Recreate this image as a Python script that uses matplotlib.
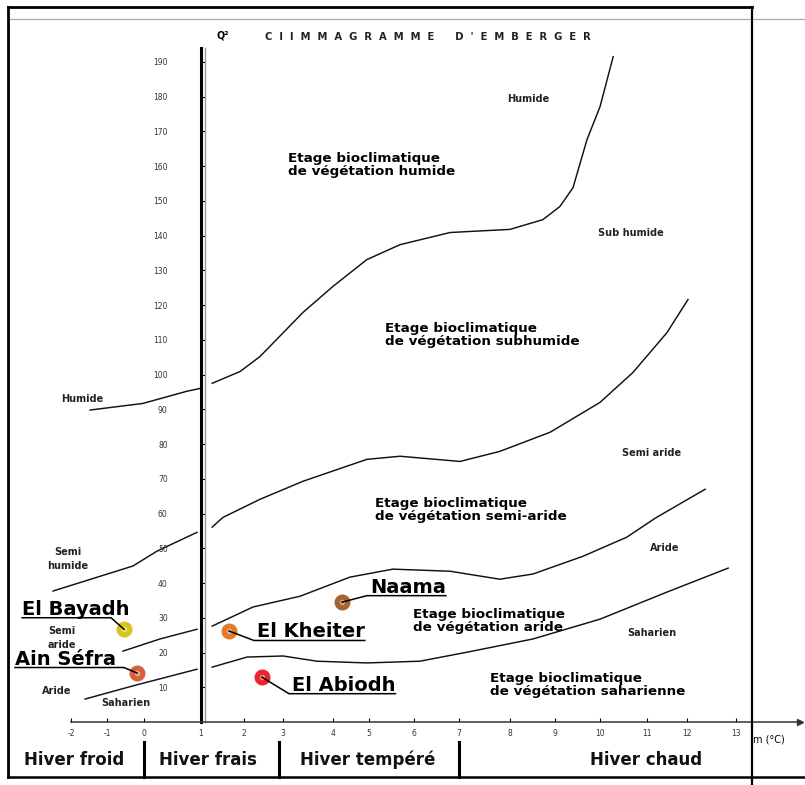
import numpy as np
import matplotlib
matplotlib.use("Agg")
import matplotlib.pyplot as plt
from matplotlib.lines import Line2D
from matplotlib import transforms

plt.rcParams['font.family'] = ['DejaVu Sans']

# --- data -------------------------------------------------------------
m_ticks = list(range(-2, 14))
q_ticks = list(range(0, 200, 10))

# limit curves between bioclimatic stages (m in degC, Q2)
humid_m = [-1.47, -0.03, 0.75, 0.98, 1.26, 1.91, 2.41, 3.4, 4.0, 4.94, 5.69, 6.8, 8.0, 8.73, 9.11, 9.4, 9.71, 10.0, 10.28]
humid_q = [89.8, 91.7, 95.2, 96.0, 97.5, 100.9, 105.2, 117.9, 125.4, 133.1, 137.4, 140.9, 141.8, 144.6, 148.4, 153.8, 167.6, 177.1, 191.5]

subhumid_m = [-2.5, -0.3, 0.23, 0.93, 1.26, 1.51, 2.41, 3.4, 4.94, 5.69, 7.02, 7.8, 8.89, 10.0, 10.7, 11.5, 12.02]
subhumid_q = [37.7, 44.9, 49.2, 54.6, 56.1, 58.9, 64.1, 69.3, 75.6, 76.5, 75.0, 77.9, 83.4, 92.0, 100.6, 112.1, 121.6]

semiarid_m = [-0.57, 0.28, 0.93, 1.26, 2.23, 3.34, 4.47, 5.53, 6.8, 7.8, 8.51, 9.62, 10.57, 11.21, 12.37]
semiarid_q = [20.4, 23.9, 26.7, 27.6, 33.1, 36.2, 41.7, 44.0, 43.4, 41.1, 42.6, 47.7, 53.2, 58.7, 67.0]

arid_m = [-1.61, -0.3, 0.93, 1.26, 2.08, 3.0, 3.68, 4.94, 6.13, 7.16, 8.51, 10.0, 11.5, 12.84]
arid_q = [6.6, 10.4, 15.2, 15.8, 18.7, 19.0, 17.5, 17.0, 17.5, 20.1, 23.9, 29.6, 37.4, 44.3]

# stations
stations = ['El Bayadh', 'Ain Séfra', 'El Kheiter', 'El Abiodh', 'Naama']
station_m = [-0.54, -0.19, 1.65, 2.46, 4.25]
station_q = [26.7, 14.1, 26.2, 12.9, 34.5]
station_colors = ['#d9c31e', '#d9603a', '#e27c2c', '#e8262c', '#a5642f']

winters = ['Hiver froid', 'Hiver frais', 'Hiver tempéré', 'Hiver chaud']
winter_limits = [0, 2.9, 7]

# --- uneven graduation of the m axis (drawing units) ------------------
grad_pos = np.array([71, 107, 144, 201, 244, 283, 333, 369, 414, 459, 510, 555, 600, 647, 687, 736], float)
grad_val = np.array(m_ticks, float)


def _piecewise(x, xs, ys):
    x = np.asarray(x, dtype=float)
    left = ys[0] + (x - xs[0]) * (ys[1] - ys[0]) / (xs[1] - xs[0])
    right = ys[-1] + (x - xs[-1]) * (ys[-1] - ys[-2]) / (xs[-1] - xs[-2])
    return np.where(x < xs[0], left, np.where(x > xs[-1], right, np.interp(x, xs, ys)))


def forward(x):
    return _piecewise(x, grad_val, grad_pos)


def inverse(p):
    return _piecewise(p, grad_pos, grad_val)


W, H = 805, 785
fig = plt.figure(figsize=(W / 100, H / 100), dpi=100)
ax = fig.add_axes([0, 0, 1, 1])
ax.set_xscale('function', functions=(forward, inverse))
ax.set_xlim(float(inverse(0)), float(inverse(W)))
q_per_px = 3.474
ax.set_ylim(-63 / q_per_px, (H - 63) / q_per_px)
ax.patch.set_visible(False)

# axes: Q2 axis stands at m = 1
for s in ['top', 'right']:
    ax.spines[s].set_visible(False)
ax.spines['left'].set_position(('data', 1))
ax.spines['left'].set_bounds(0, 194)
ax.spines['left'].set_linewidth(2.2)
ax.spines['bottom'].set_position(('data', 0))
x_end = float(inverse(800))
ax.spines['bottom'].set_bounds(-2, x_end)
ax.spines['bottom'].set_linewidth(1.1)
ax.spines['bottom'].set_color('#333333')
ax.plot([x_end], [0], marker='>', ms=4, color='#333333', clip_on=False)

shift = transforms.offset_copy(ax.transData, fig=fig, x=4, y=0, units='dots')
ax.plot([1, 1], [0, 194], color='#999999', lw=1.0, transform=shift)

ax.set_yticks(q_ticks[1:])
ax.set_yticklabels([str(v) for v in q_ticks[1:]])
ax.tick_params(axis='y', direction='in', length=3, width=0.8, pad=24,
               labelsize=5.5, labelcolor='#333333')
ax.set_xticks(m_ticks)
ax.set_xticklabels([str(v) for v in m_ticks])
ax.tick_params(axis='x', direction='in', length=3, width=0.8, pad=5,
               labelsize=5.5, labelcolor='#333333')

# limit curves, broken where they meet the Q2 axis
for mm, qq in [(humid_m, humid_q), (subhumid_m, subhumid_q),
               (semiarid_m, semiarid_q), (arid_m, arid_q)]:
    mm = np.array(mm)
    qq = np.array(qq)
    for sel in (mm <= 1, mm > 1):
        ax.plot(mm[sel], qq[sel], color='#111111', lw=1.05, solid_joinstyle='round')

# stage names
stage_kw = dict(fontsize=9.7, fontweight='bold', ha='left', va='center', linespacing=1.0)
ax.text(3.1, 160.3, 'Etage bioclimatique\nde végétation humide', **stage_kw)
ax.text(5.36, 111.4, 'Etage bioclimatique\nde végétation subhumide', **stage_kw)
ax.text(5.13, 61.0, 'Etage bioclimatique\nde végétation semi-aride', **stage_kw)
ax.text(5.98, 29.1, 'Etage bioclimatique\nde végétation aride', **stage_kw)
ax.text(7.61, 10.7, 'Etage bioclimatique\nde végétation saharienne', **stage_kw)

small_kw = dict(fontsize=7, fontweight='bold', ha='center', va='center',
                color='#222222', linespacing=1.6)
ax.text(8.4, 179.3, 'Humide', **small_kw)
ax.text(10.66, 140.8, 'Sub humide', **small_kw)
ax.text(-1.69, 93.0, 'Humide', **small_kw)
ax.text(11.12, 77.4, 'Semi aride', **small_kw)
ax.text(11.45, 50.1, 'Aride', **small_kw)
ax.text(11.12, 25.6, 'Saharien', **small_kw)
ax.text(-2.08, 46.9, 'Semi\nhumide', **small_kw)
ax.text(-2.25, 24.2, 'Semi\naride', **small_kw)
ax.text(-2.39, 8.9, 'Aride', **small_kw)
ax.text(-0.49, 5.5, 'Saharien', **small_kw)

# stations with underlined names
label_offsets = [(-102, 20), (-122, 14), (28, -1), (30, -8), (28, 15)]
labels = []
for name, mv, qv, col, (dx, dy) in zip(stations, station_m, station_q,
                                       station_colors, label_offsets):
    ax.plot(mv, qv, 'o', ms=10.5, color=col, mec=col, zorder=5)
    ax.plot(mv, qv, 'o', ms=3, color='white', alpha=0.35, zorder=6)
    t = ax.annotate(name, (mv, qv), xytext=(dx, dy), textcoords='offset pixels',
                    fontsize=14, fontweight='bold', ha='left', va='center')
    labels.append((t, mv, qv, dx))

fig.canvas.draw()
r = fig.canvas.get_renderer()
for t, mv, qv, dx in labels:
    bb = t.get_window_extent(r)
    mx, my = ax.transData.transform((mv, qv))
    uy = bb.y0 + 1
    if dx < 0:
        xs = [bb.x0, mx - 13, mx]
        ys = [uy, uy, my]
    else:
        xs = [mx, bb.x0 - 3, bb.x1]
        ys = [my, uy, uy]
    fig.add_artist(Line2D(xs, ys, transform=None, color='black', lw=1.1))


# frame and winter classes (figure pixels)
def fx(px):
    return px / W


def fy(py):
    return 1 - py / H


def hline(x0, x1, y, **kw):
    fig.add_artist(Line2D([fx(x0), fx(x1)], [fy(y), fy(y)], transform=fig.transFigure, **kw))


def vline(x, y0, y1, **kw):
    fig.add_artist(Line2D([fx(x), fx(x)], [fy(y0), fy(y1)], transform=fig.transFigure, **kw))


hline(8, 752, 7, color='black', lw=2)
hline(8, 805, 19, color='#aaaaaa', lw=0.9)
hline(8, 805, 777, color='black', lw=1.8)
vline(8, 7, 777, color='black', lw=2)
vline(752, 7, 785, color='black', lw=1.6)

blend = transforms.blended_transform_factory(ax.transData, fig.transFigure)
for lim in winter_limits:
    ax.plot([lim, lim], [fy(742), fy(777)], transform=blend, color='black', lw=2.2, clip_on=False)
for name, cx in zip(winters, [74, 208, 368, 646]):
    fig.text(fx(cx), fy(760), name, fontsize=12, fontweight='bold', ha='center', va='center', color='#111111')

title = "  ".join("CIIMMAGRAMME") + "      " + "  ".join("D'EMBERGER")
fig.text(fx(223), fy(35), 'Q²', fontsize=7, fontweight='bold', ha='center', va='center')
fig.text(fx(428), fy(37), title,
         fontsize=7.2, fontweight='bold', ha='center', va='center', color='#222222')
fig.text(fx(753), fy(739), 'm (°C)', fontsize=7, ha='left', va='center')

fig.savefig('out.png', dpi=100)
